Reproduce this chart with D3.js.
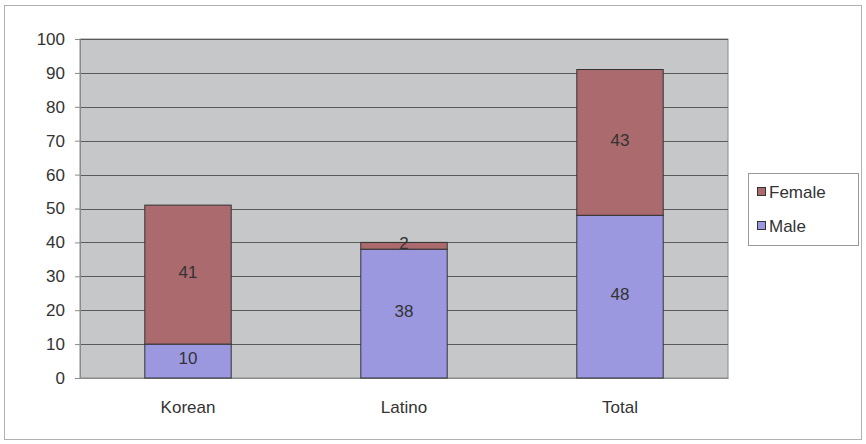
<!DOCTYPE html>
<html>
<head>
<meta charset="utf-8">
<script src="https://cdn.jsdelivr.net/npm/d3@7"></script>
<style>
  html, body { margin: 0; padding: 0; background: #fff; }
  svg { display: block; font-family: "Liberation Sans", Arial, sans-serif; }
</style>
</head>
<body>
<svg id="chart" width="866" height="444"></svg>
<script>
// Group counts by sex
const categories = ["Korean", "Latino", "Total"];
const seriesNames = ["Male", "Female"];
const maleValues = [10, 38, 48];
const femaleValues = [41, 2, 43];
const yTicks = [0, 10, 20, 30, 40, 50, 60, 70, 80, 90, 100];

const colors = { Male: "#9c98e0", Female: "#ab6a6e" };

const svg = d3.select("#chart");
const W = 866, H = 444;
const plot = { left: 80, top: 39, right: 728, bottom: 378 };

// Outer chart frame
svg.append("rect")
  .attr("x", 4.5).attr("y", 5.5).attr("width", W - 9).attr("height", H - 10)
  .attr("fill", "#fff").attr("stroke", "#b0b0b0").attr("stroke-width", 1);

const x = d3.scaleBand().domain(categories)
  .range([plot.left, plot.right]).paddingInner(0.6).paddingOuter(0.3);
const y = d3.scaleLinear().domain([0, 100]).range([plot.bottom, plot.top]);

// Plot background
svg.append("rect")
  .attr("x", plot.left).attr("y", plot.top)
  .attr("width", plot.right - plot.left).attr("height", plot.bottom - plot.top)
  .attr("fill", "#c5c7c9").attr("stroke", "#8a8a8a");

// Gridlines
svg.append("g").selectAll("line").data(yTicks.filter(t => t > 0)).join("line")
  .attr("x1", plot.left).attr("x2", plot.right)
  .attr("y1", d => Math.round(y(d)) + 0.5).attr("y2", d => Math.round(y(d)) + 0.5)
  .attr("stroke", "#5a5a5a").attr("stroke-width", 1);

// Y axis
const yAxis = svg.append("g")
  .attr("transform", `translate(${plot.left},0)`)
  .call(d3.axisLeft(y).tickValues(yTicks).tickSize(5).tickPadding(10));
yAxis.select(".domain").attr("stroke", "#8a8a8a");
yAxis.selectAll(".tick line").attr("stroke", "#8a8a8a");
yAxis.selectAll("text").attr("font-size", 17).attr("fill", "#333")
  .attr("font-family", "Liberation Sans, Arial, sans-serif");

// X axis
const xAxis = svg.append("g")
  .attr("transform", `translate(0,${plot.bottom})`)
  .call(d3.axisBottom(x).tickSize(0).tickPadding(23));
xAxis.select(".domain").attr("stroke", "#8a8a8a");
xAxis.selectAll("text").attr("font-size", 17).attr("fill", "#333")
  .attr("font-family", "Liberation Sans, Arial, sans-serif");

// Stacked data
const rows = categories.map((c, i) => ({ cat: c, Male: maleValues[i], Female: femaleValues[i] }));
const stacked = d3.stack().keys(seriesNames)(rows);

const layers = svg.append("g").selectAll("g").data(stacked).join("g")
  .attr("fill", d => colors[d.key]);

layers.selectAll("rect").data(d => d).join("rect")
  .attr("x", d => x(d.data.cat))
  .attr("width", x.bandwidth())
  .attr("y", d => y(d[1]))
  .attr("height", d => y(d[0]) - y(d[1]))
  .attr("stroke", "#333").attr("stroke-width", 1);

// Value labels
layers.selectAll("text").data(d => d.map(v => ({ v, key: d.key }))).join("text")
  .attr("x", d => x(d.v.data.cat) + x.bandwidth() / 2)
  .attr("y", d => (y(d.v[0]) + y(d.v[1])) / 2)
  .attr("dy", "0.2em")
  .attr("text-anchor", "middle")
  .attr("font-size", 17)
  .attr("fill", "#333")
  .text(d => d.v.data[d.key]);

// Legend
const legend = svg.append("g");
legend.append("rect")
  .attr("x", 748.5).attr("y", 173.5).attr("width", 110).attr("height", 72)
  .attr("fill", "#fff").attr("stroke", "#999");
const legendItems = ["Female", "Male"];
legendItems.forEach((k, i) => {
  const cy = 192 + i * 34;
  legend.append("rect")
    .attr("x", 757.5).attr("y", cy - 4.5).attr("width", 8).attr("height", 8)
    .attr("fill", colors[k]).attr("stroke", "#333");
  legend.append("text")
    .attr("x", 769).attr("y", cy).attr("dy", "0.36em")
    .attr("font-size", 17).attr("fill", "#333").text(k);
});
</script>
</body>
</html>
